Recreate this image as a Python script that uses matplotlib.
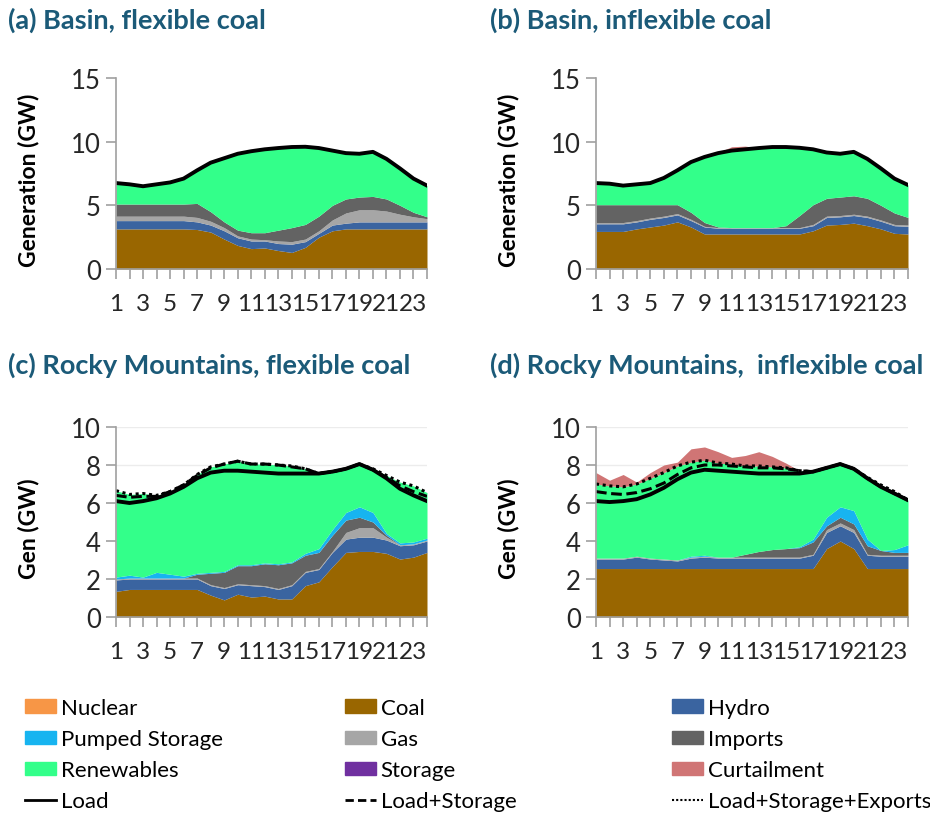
import matplotlib
matplotlib.use('Agg')
import matplotlib.pyplot as plt
from matplotlib.patches import Patch
from matplotlib.lines import Line2D

plt.rcParams['font.family'] = ['Lato', 'DejaVu Sans']

hours = list(range(1, 25))

# upper edge of each band (GW)
a_coal = [3.15,3.15,3.15,3.15,3.15,3.15,3.1,2.9,2.35,1.85,1.6,1.65,1.45,1.3,1.7,2.5,3.0,3.15,3.15,3.15,3.15,3.15,3.15,3.15]
a_hydro = [3.8,3.8,3.8,3.8,3.8,3.8,3.7,3.45,3.0,2.45,2.2,2.2,2.0,1.95,2.15,2.8,3.45,3.6,3.7,3.7,3.7,3.7,3.7,3.7]
a_gas = [4.15,4.15,4.15,4.15,4.15,4.15,4.05,3.75,3.25,2.6,2.35,2.3,2.2,2.15,2.35,3.0,3.85,4.4,4.65,4.65,4.55,4.3,4.1,3.95]
a_imports = [5.1,5.1,5.1,5.1,5.1,5.1,5.15,4.5,3.7,3.05,2.85,2.85,3.05,3.25,3.5,4.15,5.0,5.5,5.65,5.7,5.5,5.0,4.45,4.1]
a_load = [6.75,6.65,6.5,6.65,6.8,7.1,7.75,8.35,8.7,9.05,9.25,9.4,9.5,9.58,9.6,9.5,9.3,9.1,9.05,9.2,8.65,7.9,7.1,6.55]

b_coal = [2.95,2.95,2.95,3.15,3.3,3.45,3.7,3.3,2.75,2.75,2.75,2.75,2.75,2.75,2.75,2.75,3.0,3.45,3.5,3.6,3.4,3.15,2.8,2.75]
b_hydro = [3.55,3.55,3.55,3.7,3.9,4.05,4.25,3.8,3.3,3.2,3.2,3.2,3.2,3.2,3.2,3.2,3.4,4.05,4.1,4.2,4.05,3.75,3.4,3.35]
b_gas = [3.65,3.65,3.65,3.8,4.0,4.15,4.35,3.9,3.35,3.25,3.25,3.25,3.25,3.25,3.25,3.25,3.5,4.15,4.2,4.3,4.15,3.85,3.5,3.45]
b_imports = [5.05,5.05,5.05,5.05,5.05,5.05,5.05,4.45,3.65,3.3,3.25,3.25,3.25,3.25,3.4,4.2,5.05,5.55,5.65,5.75,5.55,5.0,4.4,4.05]
b_load = [6.75,6.7,6.55,6.65,6.75,7.15,7.75,8.4,8.8,9.1,9.3,9.4,9.5,9.58,9.58,9.52,9.4,9.15,9.05,9.2,8.65,7.9,7.1,6.6]
b_curtail = [6.75,6.7,6.55,6.65,6.75,7.15,7.75,8.4,8.8,9.15,9.6,9.65,9.5,9.58,9.58,9.52,9.4,9.15,9.05,9.2,8.65,7.9,7.1,6.6]

c_coal = [1.35,1.45,1.45,1.45,1.45,1.45,1.45,1.15,0.9,1.2,1.05,1.1,0.95,0.95,1.65,1.85,2.65,3.4,3.45,3.45,3.35,3.05,3.15,3.4]
c_hydro = [1.95,2.0,2.0,2.0,2.0,2.0,2.0,1.65,1.5,1.7,1.65,1.6,1.45,1.65,2.35,2.5,3.4,4.1,4.2,4.2,4.05,3.75,3.8,4.0]
c_gas = [2.0,2.05,2.05,2.05,2.05,2.05,2.05,1.7,1.55,1.75,1.7,1.65,1.5,1.7,2.4,2.55,3.45,4.45,4.7,4.7,4.2,3.8,3.85,4.05]
c_imports = [2.0,2.05,2.05,2.05,2.05,2.05,2.25,2.3,2.35,2.7,2.7,2.8,2.75,2.85,3.25,3.4,4.3,5.1,5.25,5.0,4.3,3.8,3.85,4.05]
c_pumped = [2.1,2.2,2.1,2.35,2.25,2.15,2.3,2.35,2.4,2.75,2.75,2.85,2.8,2.9,3.35,3.6,4.6,5.5,5.8,5.5,4.4,3.9,3.95,4.15]
c_load = [6.1,6.0,6.1,6.25,6.5,6.85,7.3,7.6,7.7,7.7,7.65,7.6,7.55,7.55,7.55,7.55,7.65,7.8,8.05,7.75,7.3,6.75,6.4,6.1]
c_load_sto = [6.4,6.3,6.35,6.35,6.6,6.95,7.45,7.85,8.05,8.2,8.05,8.05,8.0,7.9,7.8,7.55,7.65,7.8,8.05,7.75,7.35,6.9,6.6,6.35]
c_load_exp = [6.65,6.45,6.5,6.4,6.6,6.95,7.5,7.9,8.05,8.2,8.05,8.05,8.0,7.95,7.8,7.55,7.65,7.8,8.05,7.8,7.45,7.1,6.9,6.55]

d_coal = [2.55,2.55,2.55,2.55,2.55,2.55,2.55,2.55,2.55,2.55,2.55,2.55,2.55,2.55,2.55,2.55,2.55,3.6,4.0,3.6,2.55,2.55,2.55,2.55]
d_hydro = [3.05,3.05,3.05,3.15,3.05,3.0,2.95,3.1,3.15,3.1,3.1,3.1,3.1,3.1,3.1,3.1,3.25,4.45,4.8,4.45,3.25,3.2,3.2,3.2]
d_gas = [3.1,3.1,3.1,3.2,3.1,3.05,3.0,3.15,3.2,3.15,3.15,3.15,3.15,3.15,3.15,3.15,3.3,4.6,4.95,4.6,3.3,3.25,3.25,3.25]
d_imports = [3.1,3.1,3.1,3.2,3.1,3.05,3.0,3.15,3.2,3.15,3.15,3.3,3.45,3.55,3.6,3.65,3.95,4.8,5.25,4.9,3.75,3.5,3.4,3.4]
d_pumped = [3.1,3.1,3.1,3.2,3.1,3.05,3.0,3.2,3.25,3.15,3.15,3.3,3.45,3.55,3.6,3.7,4.1,5.25,5.8,5.6,4.1,3.5,3.55,3.8]
d_load = [6.1,6.05,6.1,6.2,6.45,6.8,7.25,7.6,7.75,7.7,7.65,7.6,7.55,7.55,7.55,7.55,7.65,7.85,8.05,7.8,7.3,6.85,6.5,6.15]
d_load_sto = [6.6,6.5,6.45,6.55,6.75,7.05,7.5,7.85,8.0,8.0,7.95,7.9,7.85,7.85,7.8,7.7,7.65,7.85,8.05,7.8,7.3,6.85,6.5,6.15]
d_load_exp = [7.0,6.9,6.85,7.0,7.3,7.6,7.95,8.15,8.25,8.1,8.05,7.95,7.95,7.9,7.85,7.7,7.65,7.85,8.05,7.8,7.35,6.95,6.6,6.15]
d_curtail = [7.6,7.2,7.5,7.1,7.6,8.0,8.15,8.85,8.95,8.7,8.4,8.5,8.7,8.45,8.1,7.7,7.65,7.85,8.05,7.8,7.35,6.95,6.6,6.15]

colors = {
    'Nuclear': '#f79646', 'Coal': '#996600', 'Hydro': '#3a64a0',
    'Pumped Storage': '#17b4f0', 'Gas': '#a6a6a6', 'Imports': '#636363',
    'Renewables': '#33ff8a', 'Storage': '#7030a0', 'Curtailment': '#d07575',
}
title_col = '#1b5a78'

panels = [
    dict(title='(a) Basin, flexible coal', ylabel='Generation (GW)', ymax=15, yticks=[0, 5, 10, 15],
         bands=[('Coal', a_coal), ('Hydro', a_hydro), ('Gas', a_gas), ('Imports', a_imports), ('Renewables', a_load)],
         lines=[a_load, None, None], pos=(116, 79, 427, 270), tpos=(8, 20)),
    dict(title='(b) Basin, inflexible coal', ylabel='Generation (GW)', ymax=15, yticks=[0, 5, 10, 15],
         bands=[('Coal', b_coal), ('Hydro', b_hydro), ('Gas', b_gas), ('Imports', b_imports), ('Renewables', b_load),
                ('Curtailment', b_curtail)],
         lines=[b_load, None, None], pos=(596, 79, 908, 270), tpos=(490, 20)),
    dict(title='(c) Rocky Mountains, flexible coal', ylabel='Gen (GW)', ymax=10, yticks=[0, 2, 4, 6, 8, 10],
         bands=[('Coal', c_coal), ('Hydro', c_hydro), ('Gas', c_gas), ('Imports', c_imports),
                ('Pumped Storage', c_pumped), ('Renewables', c_load_exp)],
         lines=[c_load, c_load_sto, c_load_exp], pos=(116, 428, 427, 618), tpos=(8, 365)),
    dict(title='(d) Rocky Mountains,  inflexible coal', ylabel='Gen (GW)', ymax=10, yticks=[0, 2, 4, 6, 8, 10],
         bands=[('Coal', d_coal), ('Hydro', d_hydro), ('Gas', d_gas), ('Imports', d_imports),
                ('Pumped Storage', d_pumped), ('Renewables', d_load_exp), ('Curtailment', d_curtail)],
         lines=[d_load, d_load_sto, d_load_exp], pos=(596, 428, 908, 618), tpos=(490, 365)),
]

W, H = 930, 829
fig = plt.figure(figsize=(W / 100, H / 100), dpi=100)

for p in panels:
    x0, y0, x1, y1 = p['pos']
    ax = fig.add_axes([x0 / W, 1 - y1 / H, (x1 - x0) / W, (y1 - y0) / H])
    prev = [0] * 24
    for name, top in p['bands']:
        ax.fill_between(hours, prev, top, color=colors[name], linewidth=0)
        prev = top
    load, load_sto, load_exp = p['lines']
    if load_exp is not None:
        ax.plot(hours, load_exp, color='black', lw=2.2, linestyle=(0, (1, 1.2)))
    if load_sto is not None:
        ax.plot(hours, load_sto, color='black', lw=2.2, linestyle=(0, (3.5, 1.5)))
    ax.plot(hours, load, color='black', lw=2.8)

    ax.set_xlim(1, 24)
    ax.set_ylim(0, p['ymax'])
    ax.set_yticks(p['yticks'])
    ax.set_xticks(hours)
    ax.set_xticklabels([str(h) if h % 2 == 1 else '' for h in hours])
    if p['ymax'] == 10:
        ax.grid(axis='y', color='#ececec', lw=1)
        ax.set_axisbelow(True)
    for s in ['top', 'right']:
        ax.spines[s].set_visible(False)
    for s in ['left', 'bottom']:
        ax.spines[s].set_color('#a0a0a0')
        ax.spines[s].set_linewidth(1.2)
    ax.tick_params(axis='x', direction='out', length=7, width=1.2, color='#a0a0a0',
                   labelsize=17.5, labelcolor='#262626', pad=10)
    ax.tick_params(axis='y', direction='out', length=7, width=1.2, color='#a0a0a0',
                   labelsize=18.5, labelcolor='#262626', pad=4)
    ax.set_ylabel(p['ylabel'], fontsize=16.5, fontweight='bold', color='black')
    ax.yaxis.set_label_coords(-0.245, 0.47)
    fig.text(p['tpos'][0] / W, 1 - p['tpos'][1] / H, p['title'], fontsize=19.5,
             fontweight='bold', color=title_col, va='center', ha='left')

# legend, three columns
leg_cols = [
    [Patch(color=colors['Nuclear'], label='Nuclear'),
     Patch(color=colors['Pumped Storage'], label='Pumped Storage'),
     Patch(color=colors['Renewables'], label='Renewables'),
     Line2D([], [], color='black', lw=2, label='Load')],
    [Patch(color=colors['Coal'], label='Coal'),
     Patch(color=colors['Gas'], label='Gas'),
     Patch(color=colors['Storage'], label='Storage'),
     Line2D([], [], color='black', lw=2, linestyle=(0, (3, 1.5)), label='Load+Storage')],
    [Patch(color=colors['Hydro'], label='Hydro'),
     Patch(color=colors['Imports'], label='Imports'),
     Patch(color=colors['Curtailment'], label='Curtailment'),
     Line2D([], [], color='black', lw=1.5, linestyle=(0, (1, 1)), label='Load+Storage+Exports')],
]
for xpx, handles in zip([25, 345, 672], leg_cols):
    fig.legend(handles=handles, loc='upper left', bbox_to_anchor=(xpx / W, 1 - 699 / H),
               frameon=False, fontsize=16, handlelength=1.4, handleheight=0.55,
               handletextpad=0.2, labelspacing=0.5, borderpad=0, borderaxespad=0)

fig.savefig('out.png', dpi=100)
